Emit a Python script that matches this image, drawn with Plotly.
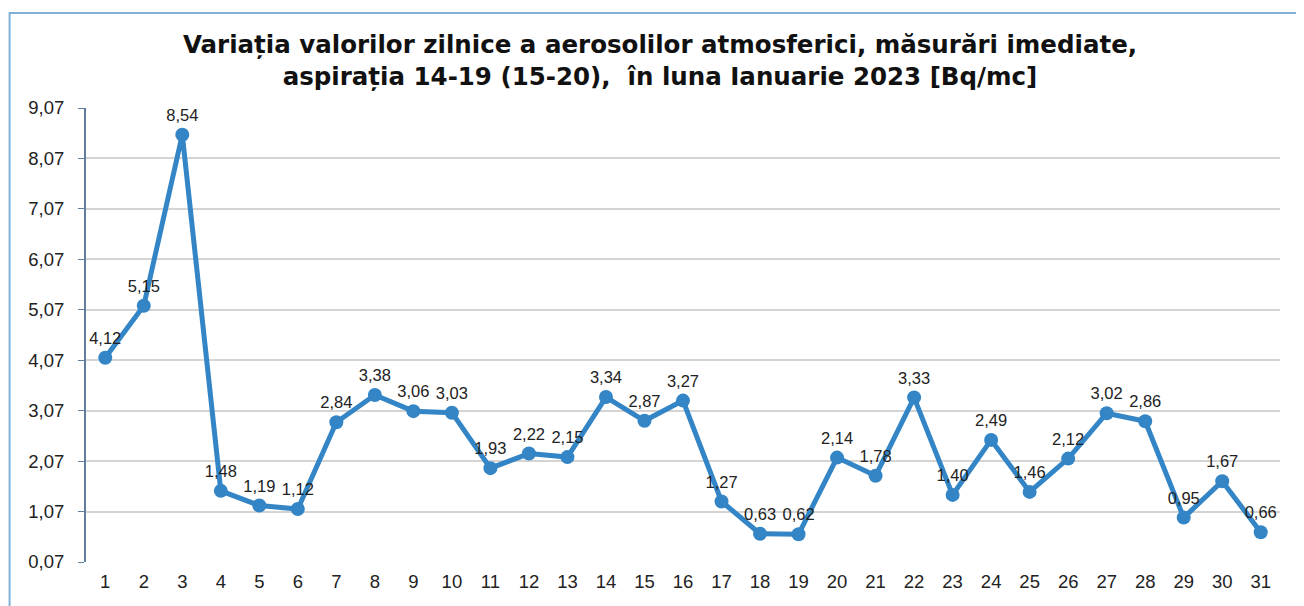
import plotly.graph_objects as go

days = list(range(1, 32))
values = [4.12, 5.15, 8.54, 1.48, 1.19, 1.12, 2.84, 3.38, 3.06, 3.03, 1.93, 2.22, 2.15,
          3.34, 2.87, 3.27, 1.27, 0.63, 0.62, 2.14, 1.78, 3.33, 1.40, 2.49, 1.46, 2.12,
          3.02, 2.86, 0.95, 1.67, 0.66]
y_ticks = [0.07, 1.07, 2.07, 3.07, 4.07, 5.07, 6.07, 7.07, 8.07, 9.07]
y_tick_text = [f"{v:.2f}".replace(".", ",") for v in y_ticks]
labels = [f"{v:.2f}".replace(".", ",") for v in values]

title = ("<b>Variația valorilor zilnice a aerosolilor atmosferici, măsurări imediate,<br>"
         "aspirația 14-19 (15-20),  în luna Ianuarie 2023 [Bq/mc]</b>")

color = "#3385c6"
fig = go.Figure(go.Scatter(
    x=days, y=values, mode="lines+markers+text",
    line=dict(color=color, width=5),
    marker=dict(color=color, size=14),
    text=labels, textposition="top center",
    textfont=dict(family="Liberation Sans, Arial", size=16.5, color="#222222"),
    cliponaxis=False, showlegend=False,
))

fig.update_layout(
    width=1304, height=606,
    paper_bgcolor="white", plot_bgcolor="white",
    margin=dict(l=78, r=32, t=100, b=52),
    title=dict(text=title, x=0.5, xanchor="center", y=0.926, yanchor="top",
               yref="container",
               font=dict(family="DejaVu Sans", size=24.5, color="#111111")),
    font=dict(family="Liberation Sans, Arial", size=18.5, color="#222222"),
    xaxis=dict(tickmode="array", tickvals=days, ticktext=[str(d) for d in days],
               range=[0.5, 31.5], showgrid=False, zeroline=False,
               showline=False, ticks="", tickfont=dict(size=18.5), ticklabelstandoff=6),
    yaxis=dict(tickmode="array", tickvals=y_ticks, ticktext=y_tick_text,
               range=[0.07, 9.07], showgrid=True, gridcolor="#d4d4d4", gridwidth=1.5,
               zeroline=False, showline=True, linecolor="#5f7d9c", linewidth=2,
               ticks="outside", ticklen=6, tickcolor="#5f7d9c", tickfont=dict(size=18.5),
               ticklabelstandoff=10),
    shapes=[dict(type="rect", xref="paper", yref="paper", x0=-0.064, x1=1.06, y0=-0.3, y1=1.209,
                 line=dict(color="#7fb0d8", width=2), fillcolor="rgba(0,0,0,0)", layer="below")],
)
fig.write_html("out.html")
